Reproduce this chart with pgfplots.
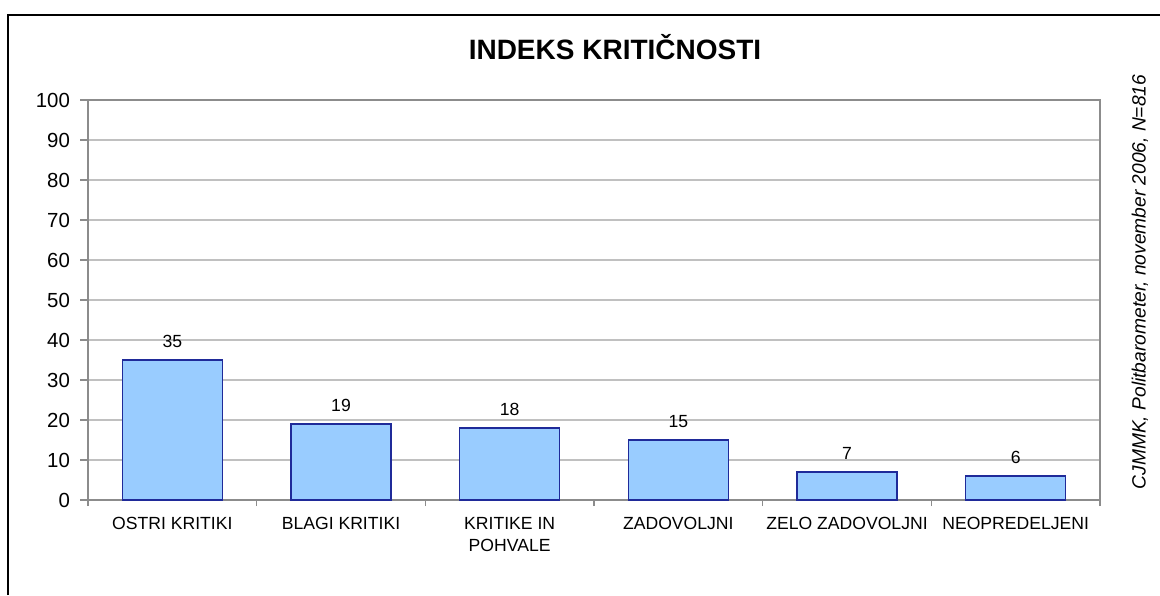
\documentclass[border=0pt]{standalone}
\usepackage{fontspec}
\setmainfont{Liberation Sans}
\usepackage{pgfplots}
\pgfplotsset{compat=1.18}
\definecolor{barFill}{HTML}{99CCFF}
\definecolor{barEdge}{HTML}{1F2A99}
\definecolor{gridGray}{HTML}{C0C0C0}
\definecolor{axisGray}{HTML}{8C8C8C}

\begin{document}
\begin{tikzpicture}
% page is 1160x595 px at 0.5pt per px
\path[use as bounding box] (0,0) rectangle (580pt,-297.5pt);
\draw[line width=1pt] (4pt,-297.5pt) -- (4pt,-7.5pt) -- (580pt,-7.5pt);

\node[font=\fontsize{14}{16}\selectfont\bfseries] at (307.5pt,-23.5pt) {INDEKS KRITIČNOSTI};

\begin{axis}[
  at={(44pt,-250pt)}, anchor=south west,
  scale only axis,
  width=506pt, height=200pt,
  xmin=-0.5, xmax=5.5,
  ymin=0, ymax=100,
  ytick={0,10,...,100},
  xtick={0,...,5},
  xticklabels={OSTRI KRITIKI, BLAGI KRITIKI, {KRITIKE IN\\POHVALE}, ZADOVOLJNI, ZELO ZADOVOLJNI, NEOPREDELJENI},
  minor xtick={-0.5,0.5,...,5.5},
  x tick style={draw=none},
  minor x tick style={draw=axisGray, line width=0.8pt},
  y tick style={draw=axisGray, line width=0.8pt},
  tick align=outside,
  major tick length=4pt,
  minor tick length=3pt,
  ymajorgrids,
  grid style={draw=gridGray, line width=0.6pt},
  axis line style={draw=axisGray, line width=0.8pt},
  ytick pos=left,
  xtick pos=bottom,
  /pgf/number format/assume math mode=true,
  yticklabel style={font=\fontsize{10.2}{12}\selectfont, xshift=-1.5pt},
  xticklabel style={font=\fontsize{8.8}{11}\selectfont, align=center, yshift=-1pt},
  nodes near coords,
  every node near coord/.append style={font=\fontsize{8.8}{10}\selectfont, yshift=2.5pt},
]
\addplot[ybar, bar width=50pt, fill=barFill, draw=barEdge, line width=0.8pt]
  coordinates {(0,35) (1,19) (2,18) (3,15) (4,7) (5,6)};
\end{axis}

\node[rotate=90, font=\fontsize{9.6}{11}\selectfont\itshape] at (570pt,-141pt)
  {CJMMK, Politbarometer, november 2006, N=816};
\end{tikzpicture}
\end{document}
